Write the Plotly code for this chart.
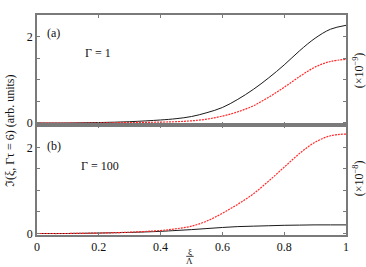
import plotly.graph_objects as go
from plotly.subplots import make_subplots

x_a = [0, 0.1, 0.2, 0.3, 0.4, 0.45, 0.5, 0.55, 0.6, 0.65, 0.7, 0.75, 0.8, 0.85, 0.9, 0.95, 1.0]
black_a = [0, 0.0, 0.01, 0.03, 0.07, 0.1, 0.15, 0.24, 0.36, 0.55, 0.78, 1.05, 1.35, 1.68, 1.97, 2.18, 2.27]
red_a = [0, 0.0, 0.0, 0.01, 0.02, 0.03, 0.05, 0.09, 0.16, 0.26, 0.40, 0.60, 0.83, 1.08, 1.30, 1.43, 1.48]
red_b = [0, 0.0, 0.01, 0.03, 0.07, 0.11, 0.17, 0.29, 0.47, 0.68, 0.92, 1.22, 1.54, 1.86, 2.12, 2.27, 2.31]
black_b = [0, 0.0, 0.01, 0.025, 0.05, 0.07, 0.09, 0.115, 0.14, 0.16, 0.17, 0.18, 0.19, 0.195, 0.2, 0.2, 0.2]

xticks = [0, 0.2, 0.4, 0.6, 0.8, 1.0]
xticklabels = ["0", "0.2", "0.4", "0.6", "0.8", "1"]
yticks = [0, 2]
yticklabels = ["0", "2"]
yminor = 0.5

FONT = "Liberation Serif"
AX = "#7a7a7a"

fig = make_subplots(rows=2, cols=1, shared_xaxes=True, vertical_spacing=0)

fig.add_trace(go.Scatter(x=x_a, y=black_a, mode="lines", line=dict(color="#1a1a1a", width=1, shape="spline")), row=1, col=1)
fig.add_trace(go.Scatter(x=x_a, y=red_a, mode="lines", line=dict(color="#ff2a2a", width=1.2, dash="2px,1px", shape="spline")), row=1, col=1)
fig.add_trace(go.Scatter(x=x_a, y=black_b, mode="lines", line=dict(color="#1a1a1a", width=1, shape="spline")), row=2, col=1)
fig.add_trace(go.Scatter(x=x_a, y=red_b, mode="lines", line=dict(color="#ff2a2a", width=1.2, dash="2px,1px", shape="spline")), row=2, col=1)

common_x = dict(range=[0, 1], tickvals=xticks, ticks="inside", ticklen=3, tickcolor=AX,
                showline=True, linecolor=AX, linewidth=1.5, mirror="ticks", showgrid=False, zeroline=False)
fig.update_xaxes(**common_x, showticklabels=False, row=1, col=1)
fig.update_xaxes(**common_x, ticktext=xticklabels, showticklabels=True, tickfont=dict(family=FONT, size=12), row=2, col=1)

common_y = dict(tickvals=yticks, ticktext=yticklabels, ticks="inside", ticklen=3, tickcolor=AX,
                minor=dict(dtick=yminor, tick0=0, ticks="inside", ticklen=3, tickcolor=AX, showgrid=False),
                showline=True, linecolor=AX, linewidth=1.5, mirror="ticks", showgrid=False, zeroline=False,
                tickfont=dict(family=FONT, size=12))
fig.update_yaxes(**common_y, range=[-0.047, 2.51], row=1, col=1)
fig.update_yaxes(**common_y, range=[-0.035, 2.52], row=2, col=1)

tf = dict(family=FONT, size=12, color="#111")
ann = [
    dict(text="(a)", x=0.026, y=2.1, xref="x", yref="y", xanchor="left", yanchor="middle", showarrow=False, font=tf),
    dict(text="Γ = 1", x=0.149, y=1.63, xref="x", yref="y", xanchor="left", yanchor="middle", showarrow=False, font=tf),
    dict(text="(b)", x=0.026, y=2.03, xref="x2", yref="y2", xanchor="left", yanchor="middle", showarrow=False, font=tf),
    dict(text="Γ = 100", x=0.136, y=1.57, xref="x2", yref="y2", xanchor="left", yanchor="middle", showarrow=False, font=tf),
    dict(text="(×10<sup>−9</sup>)", x=1.04, y=0.75, xref="paper", yref="paper", xanchor="center", yanchor="middle",
         textangle=-90, showarrow=False, font=tf),
    dict(text="(×10<sup>−8</sup>)", x=1.04, y=0.26, xref="paper", yref="paper", xanchor="center", yanchor="middle",
         textangle=-90, showarrow=False, font=tf),
    dict(text="ℑ(ξ, Γτ = 6) (arb. units)", x=-0.087, y=0.473, xref="paper", yref="paper", xanchor="center", yanchor="middle",
         textangle=-90, showarrow=False, font=tf),
    dict(text="ξ", x=0.495, y=-0.077, xref="paper", yref="paper", xanchor="center", yanchor="middle", showarrow=False,
         font=dict(family=FONT, size=9, color="#111")),
    dict(text="Λ", x=0.495, y=-0.12, xref="paper", yref="paper", xanchor="center", yanchor="middle", showarrow=False,
         font=dict(family=FONT, size=9, color="#111")),
]
fig.update_layout(
    annotations=ann,
    shapes=[dict(type="line", xref="paper", yref="paper", x0=0.483, x1=0.507, y0=-0.097, y1=-0.097,
                 line=dict(color="#111", width=0.8))],
    width=366, height=267, margin=dict(l=37, r=20, t=15, b=32),
    showlegend=False, plot_bgcolor="white", paper_bgcolor="white",
    font=dict(family=FONT, size=12, color="#111"),
)
fig.write_html("out.html", config={"displayModeBar": False},
               post_script="document.body.style.margin='0';document.body.style.overflow='hidden';")
